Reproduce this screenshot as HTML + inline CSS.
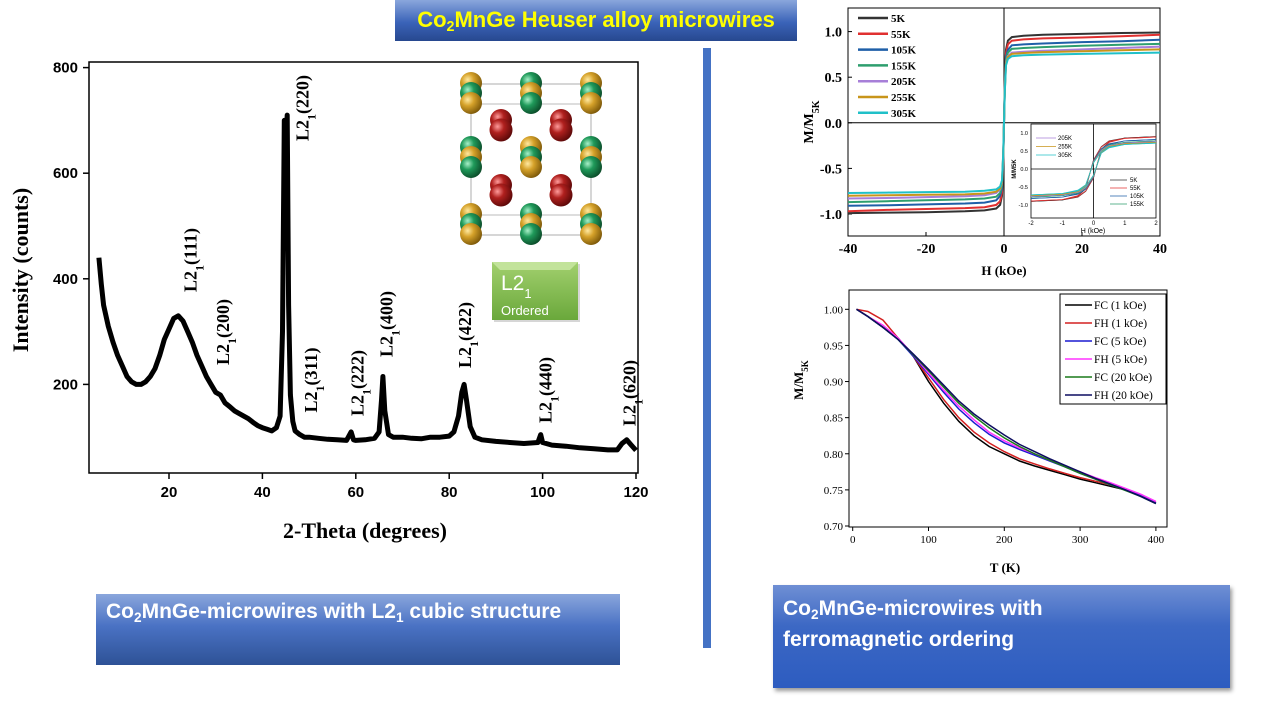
<!DOCTYPE html>
<html><head><meta charset="utf-8"><style>
body{margin:0;width:1280px;height:720px;background:#fff;position:relative;overflow:hidden;font-family:"Liberation Sans",sans-serif}
.box{position:absolute;color:#fff;font-family:"Liberation Sans Narrow","Liberation Sans",sans-serif;font-weight:bold}
sub{font-size:65%;vertical-align:-4px;line-height:0}
</style></head><body>
<div class="box" style="left:395px;top:0;width:402px;height:41px;background:linear-gradient(#8aa6dc,#3a63b8 55%,#27488f);color:#ffff00;font-size:22px;text-align:center;line-height:40px">Co<sub>2</sub>MnGe Heuser alloy microwires</div>
<div class="box" style="left:96px;top:594px;width:524px;height:71px;background:linear-gradient(#8aa6dc,#4a72c4 45%,#2e5296);font-size:21px;padding:6px 0 0 10px;box-sizing:border-box;white-space:nowrap">Co<sub>2</sub>MnGe-microwires with L2<sub>1</sub> cubic structure</div>
<div class="box" style="left:773px;top:585px;width:457px;height:103px;background:linear-gradient(#6f8fd4,#3c68c4 40%,#2d5cc0);font-size:21px;padding:8px 0 0 10px;box-sizing:border-box;line-height:31px;box-shadow:2px 3px 4px #999">Co<sub>2</sub>MnGe-microwires with<br>ferromagnetic ordering</div>
<div style="position:absolute;left:703px;top:48px;width:8px;height:600px;background:#4472c4"></div>
<svg id="s" width="1280" height="720" style="position:absolute;left:0;top:0" xmlns="http://www.w3.org/2000/svg">
<defs>
<radialGradient id="gGold" cx="35%" cy="35%" r="70%"><stop offset="0" stop-color="#ffe9a0"/><stop offset=".4" stop-color="#d6a22a"/><stop offset="1" stop-color="#7a5608"/></radialGradient>
<radialGradient id="gGreen" cx="35%" cy="35%" r="70%"><stop offset="0" stop-color="#a8f0c8"/><stop offset=".4" stop-color="#1f9a5a"/><stop offset="1" stop-color="#0b4a28"/></radialGradient>
<radialGradient id="gRed" cx="35%" cy="35%" r="70%"><stop offset="0" stop-color="#ff9a9a"/><stop offset=".4" stop-color="#b0201e"/><stop offset="1" stop-color="#5a0808"/></radialGradient>
<linearGradient id="gBox" x1="0" y1="0" x2="0" y2="1"><stop offset="0" stop-color="#a2d06e"/><stop offset="1" stop-color="#6aa83b"/></linearGradient>
</defs>
<g id="xrd"></g><g id="hys"></g><g id="mt"></g>
</svg>
<script>
const NS='http://www.w3.org/2000/svg';
function mk(p,t,a,txt){const e=document.createElementNS(NS,t);for(const k in a)e.setAttribute(k,a[k]);if(txt!==undefined)e.textContent=txt;p.appendChild(e);return e;}
function pathD(xs,ys,fx,fy){return xs.map((v,i)=>(i?'L':'M')+fx(v).toFixed(1)+','+fy(ys[i]).toFixed(1)).join('');}

/* ---------- XRD data ---------- */
const xrdTheta=[5,5.5,6,7,8,9,10,11,12,13,14,15,16,17,18,19,20,21,22,23,24,25,26,27,28,29,30,31,32,33,34,35,36,37,38,39,40,41,42,43,43.8,44.3,44.7,45,45.3,45.6,46,46.5,47,48,49,50,52,54,56,58,59,59.5,60,62,64,65,65.5,65.8,66.2,67,68,70,72,74,76,78,80,81,82,82.7,83.2,83.7,84.5,85.5,87,90,93,96,99,99.6,100,102,105,108,111,114,116,117,118,119,120];
const xrdCounts=[440,390,350,310,280,255,235,215,205,200,200,205,215,230,255,285,305,325,330,320,300,280,255,235,215,200,185,180,165,158,150,145,140,135,128,122,118,115,112,118,140,300,700,650,710,350,180,130,112,105,100,100,98,96,95,94,110,95,94,95,98,110,170,215,150,105,100,100,98,97,100,100,102,110,140,185,200,170,120,100,95,92,90,88,90,105,90,85,83,80,78,76,76,88,95,85,75];
const xrdXTicks=[20,40,60,80,100,120];
const xrdYTicks=[200,400,600,800];
const peakLabels=['(111)','(200)','(220)','(311)','(222)','(400)','(422)','(440)','(620)'];
const peakTheta=[23.5,30.5,47.5,49.3,59.3,65.5,82.3,99.5,117.5];
const peakLabelCenter=[260,332,108,380,383,324,335,390,393];

/* ---------- Hysteresis data ---------- */
const hField=[-40,-30,-20,-10,-5,-2,-1,-0.5,-0.2,0,0.2,0.5,1,2,5,10,20,30,40];
const hTemps=['5K','55K','105K','155K','205K','255K','305K'];
const hColors=['#333333','#e03030','#1f5fa8','#2e9e6e','#a77fd8','#c8951a','#20c0c8'];
const m5K=[-0.99,-0.985,-0.98,-0.97,-0.96,-0.94,-0.90,-0.80,-0.45,0,0.45,0.80,0.90,0.94,0.955,0.965,0.975,0.985,0.99];
const m55K=[-0.97,-0.955,-0.945,-0.935,-0.925,-0.90,-0.86,-0.76,-0.42,0,0.42,0.76,0.86,0.90,0.915,0.925,0.935,0.95,0.965];
const m105K=[-0.91,-0.905,-0.895,-0.885,-0.875,-0.85,-0.80,-0.72,-0.40,0,0.40,0.72,0.80,0.85,0.86,0.87,0.885,0.895,0.91];
const m155K=[-0.87,-0.86,-0.85,-0.84,-0.83,-0.81,-0.77,-0.69,-0.38,0,0.38,0.69,0.77,0.81,0.82,0.83,0.845,0.855,0.865];
const m205K=[-0.83,-0.825,-0.815,-0.805,-0.795,-0.77,-0.73,-0.66,-0.36,0,0.36,0.66,0.73,0.77,0.78,0.79,0.805,0.82,0.835];
const m255K=[-0.80,-0.795,-0.79,-0.785,-0.775,-0.755,-0.72,-0.65,-0.35,0,0.35,0.65,0.72,0.755,0.765,0.775,0.785,0.795,0.805];
const m305K=[-0.77,-0.765,-0.76,-0.755,-0.745,-0.73,-0.70,-0.63,-0.34,0,0.34,0.63,0.70,0.73,0.74,0.748,0.755,0.762,0.77];
const hXTicks=[-40,-20,0,20,40];
const hYTicks=[-1.0,-0.5,0.0,0.5,1.0];
/* inset loops */
const iField=[-2,-1,-0.5,-0.25,0,0.25,0.5,1,2];
const iDown5K=[-0.90,-0.86,-0.75,-0.55,0.25,0.62,0.78,0.86,0.90];
const iUp5K=[-0.90,-0.86,-0.78,-0.62,-0.25,0.55,0.75,0.86,0.90];
const iDown55K=[-0.89,-0.85,-0.74,-0.54,0.24,0.61,0.77,0.85,0.89];
const iUp55K=[-0.89,-0.85,-0.77,-0.61,-0.24,0.54,0.74,0.85,0.89];
const iDown105K=[-0.82,-0.78,-0.68,-0.50,0.22,0.56,0.70,0.78,0.82];
const iUp105K=[-0.82,-0.78,-0.70,-0.56,-0.22,0.50,0.68,0.78,0.82];
const iDown155K=[-0.78,-0.74,-0.65,-0.48,0.20,0.53,0.67,0.74,0.78];
const iUp155K=[-0.78,-0.74,-0.67,-0.53,-0.20,0.48,0.65,0.74,0.78];
const iDown205K=[-0.76,-0.72,-0.63,-0.46,0.19,0.52,0.65,0.72,0.76];
const iUp205K=[-0.76,-0.72,-0.65,-0.52,-0.19,0.46,0.63,0.72,0.76];
const iDown255K=[-0.74,-0.70,-0.61,-0.45,0.18,0.50,0.63,0.70,0.74];
const iUp255K=[-0.74,-0.70,-0.63,-0.50,-0.18,0.45,0.61,0.70,0.74];
const iDown305K=[-0.72,-0.68,-0.59,-0.44,0.17,0.49,0.61,0.68,0.72];
const iUp305K=[-0.72,-0.68,-0.61,-0.49,-0.17,0.44,0.59,0.68,0.72];
const iXTicks=[-2,-1,0,1,2];
const iYTicks=[-1.0,-0.5,0.0,0.5,1.0];

/* ---------- M(T) data ---------- */
const tTemp=[5,20,40,60,80,100,120,140,160,180,200,220,240,260,280,300,320,340,360,380,400];
const mtLabels=['FC (1 kOe)','FH (1 kOe)','FC (5 kOe)','FH (5 kOe)','FC (20 kOe)','FH (20 kOe)'];
const mtColors=['#000000','#d42020','#1a1ad0','#ff33ff','#1a7a1a','#0d0d60'];
const fc1=[1.0,0.99,0.975,0.96,0.935,0.90,0.87,0.845,0.825,0.81,0.80,0.79,0.783,0.777,0.771,0.765,0.76,0.755,0.75,0.742,0.732];
const fh1=[1.0,0.997,0.985,0.96,0.935,0.905,0.875,0.85,0.83,0.815,0.803,0.793,0.786,0.779,0.773,0.767,0.762,0.757,0.751,0.743,0.733];
const fc5=[1.0,0.99,0.975,0.958,0.935,0.91,0.885,0.862,0.843,0.827,0.815,0.806,0.798,0.79,0.782,0.773,0.765,0.757,0.75,0.742,0.732];
const fh5=[1.0,0.99,0.978,0.96,0.937,0.912,0.888,0.866,0.847,0.83,0.818,0.808,0.8,0.791,0.783,0.775,0.767,0.76,0.752,0.744,0.734];
const fc20=[1.0,0.99,0.975,0.958,0.937,0.915,0.892,0.87,0.852,0.836,0.822,0.81,0.8,0.791,0.782,0.773,0.765,0.757,0.749,0.741,0.731];
const fh20=[1.0,0.99,0.975,0.958,0.938,0.917,0.895,0.873,0.855,0.84,0.826,0.813,0.803,0.793,0.784,0.775,0.766,0.758,0.75,0.741,0.731];
const mtXTicks=[0,100,200,300,400];
const mtYTicks=[0.70,0.75,0.80,0.85,0.90,0.95,1.00];

const serif='"Liberation Serif",serif';
/* ======== XRD chart ======== */
(function(){
const g=document.getElementById('xrd');
const X=v=>75.6+v*4.67, Y=v=>490-v*0.528;
const fr=mk(g,'rect',{x:89,y:62,width:549,height:411,fill:'none',stroke:'#000','stroke-width':1.5});

xrdXTicks.forEach(t=>{mk(g,'line',{x1:X(t),x2:X(t),y1:473,y2:479,stroke:'#000','stroke-width':1.5});
 const l=mk(g,'text',{x:X(t),y:497,'text-anchor':'middle','font-size':15,'font-weight':'bold','font-family':'"Liberation Sans",sans-serif'},t);
 });
xrdYTicks.forEach(t=>{mk(g,'line',{x1:83,x2:89,y1:Y(t),y2:Y(t),stroke:'#000','stroke-width':1.5});
 const l=mk(g,'text',{x:78,y:Y(t)+5,'text-anchor':'end','font-size':15,'font-weight':'bold','font-family':'"Liberation Sans",sans-serif'},t);
 });
const p=mk(g,'path',{d:pathD(xrdTheta,xrdCounts,X,Y),fill:'none',stroke:'#000','stroke-width':5,'stroke-linejoin':'round'});

peakLabels.forEach((s,i)=>{const t=mk(g,'text',{transform:`translate(${X(peakTheta[i])+11},${peakLabelCenter[i]}) rotate(-90)`,'text-anchor':'middle','font-size':18,'font-weight':'bold','font-family':serif});
 mk(t,'tspan',{},'L2');mk(t,'tspan',{'baseline-shift':'sub','font-size':12},'1');mk(t,'tspan',{},s);
 });
const yt=mk(g,'text',{transform:'translate(28,270) rotate(-90)','text-anchor':'middle','font-size':22,'font-weight':'bold','font-family':serif},'Intensity (counts)');

const xt=mk(g,'text',{x:365,y:538,'text-anchor':'middle','font-size':22,'font-weight':'bold','font-family':serif},'2-Theta (degrees)');

/* crystal inset */
const c=mk(g,'g',{});
mk(c,'rect',{x:471,y:84,width:120,height:151,fill:'none',stroke:'#bbb','stroke-width':1.2});
mk(c,'line',{x1:471,x2:591,y1:104,y2:104,stroke:'#bbb'});mk(c,'line',{x1:471,x2:591,y1:215,y2:215,stroke:'#bbb'});
const A={o:'url(#gGold)',n:'url(#gGreen)',r:'url(#gRed)'};
const stacks=[[471,83,'ono'],[531,83,'non'],[591,83,'ono'],[471,147,'non'],[531,147,'ono'],[591,147,'non'],[471,214,'ono'],[531,214,'non'],[591,214,'ono']];
stacks.forEach(s=>{const k=s[2];[0,1,2].forEach(j=>mk(c,'circle',{cx:s[0],cy:s[1]+j*10,r:11,fill:A[k[j]]}));});
[[501,120],[561,120],[501,185],[561,185]].forEach(s=>{mk(c,'circle',{cx:s[0],cy:s[1],r:11,fill:A.r});mk(c,'circle',{cx:s[0],cy:s[1]+10,r:11.5,fill:A.r});});
const b=mk(g,'g',{});
mk(b,'rect',{x:494,y:264,width:86,height:58,fill:'#999',opacity:.4});
mk(b,'rect',{x:492,y:262,width:86,height:58,fill:'url(#gBox)'});
mk(b,'polygon',{points:'492,262 578,262 570,270 500,270',fill:'#c2e39a'});
const lt=mk(b,'text',{x:501,y:290,fill:'#fff','font-size':21,'font-family':'"Liberation Sans",sans-serif'});mk(lt,'tspan',{},'L2');mk(lt,'tspan',{'baseline-shift':'sub','font-size':13},'1');
mk(b,'text',{x:501,y:315,fill:'#fff','font-size':13,'font-family':'"Liberation Sans",sans-serif'},'Ordered');
})();

/* ======== Hysteresis chart ======== */
(function(){
const g=document.getElementById('hys');
const X=v=>1004+v*3.9, Y=v=>122.8-v*91.2;
const fr=mk(g,'rect',{x:848,y:8,width:312,height:228,fill:'none',stroke:'#000','stroke-width':1});

mk(g,'line',{x1:848,x2:1160,y1:Y(0),y2:Y(0),stroke:'#000'});mk(g,'line',{x1:X(0),x2:X(0),y1:8,y2:236,stroke:'#000'});
hXTicks.forEach(t=>{mk(g,'line',{x1:X(t),x2:X(t),y1:236,y2:232,stroke:'#000'});
 const l=mk(g,'text',{x:X(t),y:253,'text-anchor':'middle','font-size':14,'font-weight':'bold','font-family':serif},t);
 });
hYTicks.forEach(t=>{mk(g,'line',{x1:848,x2:852,y1:Y(t),y2:Y(t),stroke:'#000'});
 const l=mk(g,'text',{x:842,y:Y(t)+5,'text-anchor':'end','font-size':14,'font-weight':'bold','font-family':serif},t.toFixed(1));
 });
const series=[m5K,m55K,m105K,m155K,m205K,m255K,m305K];
series.forEach((s,i)=>{const p=mk(g,'path',{d:pathD(hField,s,X,Y),fill:'none',stroke:hColors[i],'stroke-width':2});
 
 const ly=18+i*15.8;mk(g,'line',{x1:858,x2:888,y1:ly,y2:ly,stroke:hColors[i],'stroke-width':2.5});
 const t=mk(g,'text',{x:891,y:ly+4,'font-size':11,'font-weight':'bold','font-family':serif},hTemps[i]);
 });
const yt=mk(g,'text',{transform:'translate(813,122) rotate(-90)','text-anchor':'middle','font-size':14,'font-weight':'bold','font-family':serif});
mk(yt,'tspan',{},'M/M');mk(yt,'tspan',{'baseline-shift':'sub','font-size':10},'5K');

const xt=mk(g,'text',{x:1004,y:275,'text-anchor':'middle','font-size':13,'font-weight':'bold','font-family':serif},'H (kOe)');

/* inset */
const ig=mk(g,'g',{});
const IX=v=>1093.5+v*31.25, IY=v=>169-v*36;
mk(ig,'rect',{x:1031,y:124,width:125,height:94,fill:'#fff',stroke:'#000','stroke-width':.8});
mk(ig,'line',{x1:1031,x2:1156,y1:IY(0),y2:IY(0),stroke:'#000','stroke-width':.8});
mk(ig,'line',{x1:IX(0),x2:IX(0),y1:124,y2:218,stroke:'#000','stroke-width':.8});
iXTicks.forEach(t=>mk(ig,'text',{x:IX(t),y:225,'text-anchor':'middle','font-size':6,'font-family':'"Liberation Sans",sans-serif'},t));
iYTicks.forEach(t=>mk(ig,'text',{x:1028,y:IY(t)+2,'text-anchor':'end','font-size':5.5,'font-family':'"Liberation Sans",sans-serif'},t.toFixed(1)));
const downs=[iDown5K,iDown55K,iDown105K,iDown155K,iDown205K,iDown255K,iDown305K];
const ups=[iUp5K,iUp55K,iUp105K,iUp155K,iUp205K,iUp255K,iUp305K];
downs.forEach((d,i)=>{mk(ig,'path',{d:pathD(iField,d,IX,IY),fill:'none',stroke:hColors[i],'stroke-width':.8});
 mk(ig,'path',{d:pathD(iField,ups[i],IX,IY),fill:'none',stroke:hColors[i],'stroke-width':.8});});
[4,5,6].forEach((k,j)=>{const y=138+j*8.5;mk(ig,'line',{x1:1036,x2:1056,y1:y,y2:y,stroke:hColors[k],'stroke-width':.8});
 mk(ig,'text',{x:1058,y:y+2,'font-size':6,'font-family':'"Liberation Sans",sans-serif'},hTemps[k]);});
[0,1,2,3].forEach((k,j)=>{const y=180+j*8;mk(ig,'line',{x1:1110,x2:1127,y1:y,y2:y,stroke:hColors[k],'stroke-width':.8});
 mk(ig,'text',{x:1130,y:y+2,'font-size':6,'font-family':'"Liberation Sans",sans-serif'},hTemps[k]);});
mk(ig,'text',{transform:'translate(1016,169) rotate(-90)','text-anchor':'middle','font-size':6,'font-weight':'bold','font-family':'"Liberation Sans",sans-serif'},'M/M5K');
mk(ig,'text',{x:1093,y:233,'text-anchor':'middle','font-size':7,'font-family':'"Liberation Sans",sans-serif'},'H (kOe)');
})();

/* ======== M(T) chart ======== */
(function(){
const g=document.getElementById('mt');
const X=v=>852.7+v*0.758, Y=v=>526-(v-0.7)*722.3;
const fr=mk(g,'rect',{x:849,y:290,width:318,height:237,fill:'none',stroke:'#000','stroke-width':1});

mtXTicks.forEach(t=>{mk(g,'line',{x1:X(t),x2:X(t),y1:527,y2:531,stroke:'#000'});
 const l=mk(g,'text',{x:X(t),y:543,'text-anchor':'middle','font-size':11,'font-family':serif},t);
 });
mtYTicks.forEach(t=>{mk(g,'line',{x1:845,x2:849,y1:Y(t),y2:Y(t),stroke:'#000'});
 const l=mk(g,'text',{x:843,y:Y(t)+4,'text-anchor':'end','font-size':11,'font-family':serif},t.toFixed(2));
 });
[fc1,fh1,fc5,fh5,fc20,fh20].forEach((s,i)=>{const p=mk(g,'path',{d:pathD(tTemp,s,X,Y),fill:'none',stroke:mtColors[i],'stroke-width':1.5});
 });
const lg=mk(g,'g',{});
mk(lg,'rect',{x:1060,y:294,width:106,height:110,fill:'#fff',stroke:'#000'});
mtLabels.forEach((s,i)=>{const y=305+i*18;mk(lg,'line',{x1:1065,x2:1092,y1:y,y2:y,stroke:mtColors[i],'stroke-width':1.5});
 const t=mk(lg,'text',{x:1094,y:y+4,'font-size':11.5,'font-family':serif},s);
 });
const yt=mk(g,'text',{transform:'translate(803,380) rotate(-90)','text-anchor':'middle','font-size':13,'font-weight':'bold','font-family':serif});
mk(yt,'tspan',{},'M/M');mk(yt,'tspan',{'baseline-shift':'sub','font-size':9},'5K');

const xt=mk(g,'text',{x:1005,y:572,'text-anchor':'middle','font-size':13,'font-weight':'bold','font-family':serif},'T (K)');

})();
</script>
</body></html>
